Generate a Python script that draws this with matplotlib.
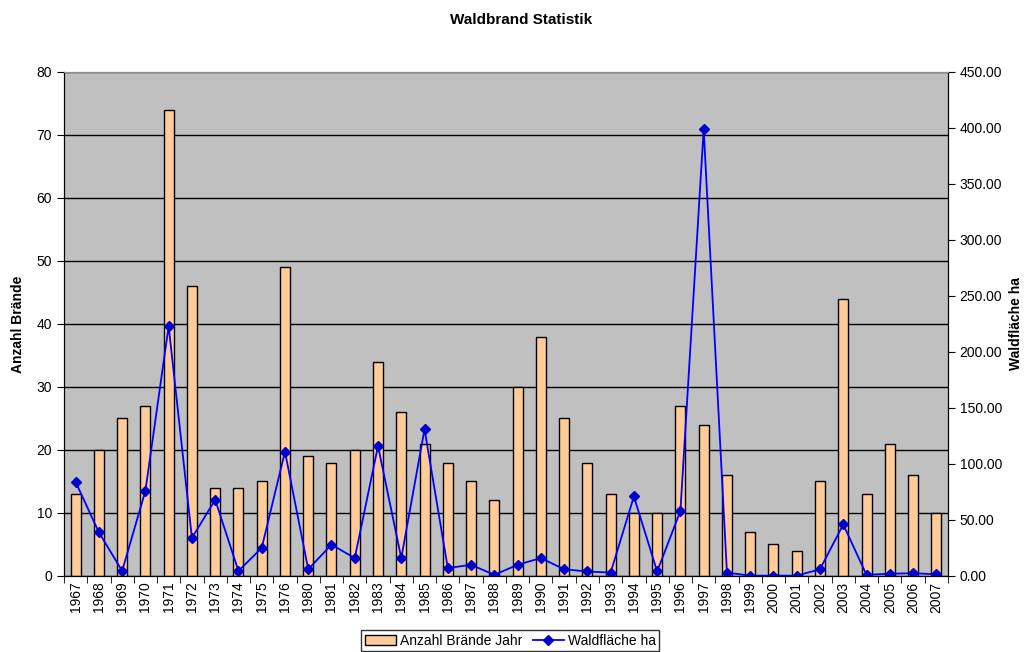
import numpy as np
import matplotlib
matplotlib.use('Agg')
import matplotlib.pyplot as plt
from matplotlib.ticker import FormatStrFormatter

plt.rcParams['font.family'] = ['Liberation Sans', 'DejaVu Sans']

years = ['1967', '1968', '1969', '1970', '1971', '1972', '1973', '1974', '1975', '1976',
         '1980', '1981', '1982', '1983', '1984', '1985', '1986', '1987', '1988', '1989',
         '1990', '1991', '1992', '1993', '1994', '1995', '1996', '1997', '1998', '1999',
         '2000', '2001', '2002', '2003', '2004', '2005', '2006', '2007']
braende = [13, 20, 25, 27, 74, 46, 14, 14, 15, 49,
           19, 18, 20, 34, 26, 21, 18, 15, 12, 30,
           38, 25, 18, 13, 10, 10, 27, 24, 16, 7,
           5, 4, 15, 44, 13, 21, 16, 10]
flaeche = [84, 39, 4.5, 76, 223, 34, 68, 4.5, 25, 111,
           6, 28, 16, 116, 16, 131, 7, 10, 1, 10,
           16, 6, 4, 3, 71, 4, 58, 399, 3, 0.3,
           0.3, 0.3, 6, 46, 1, 2, 2.5, 1.5]

x = np.arange(len(years))

fig = plt.figure(figsize=(10.27, 6.52), dpi=100)
ax = fig.add_axes([0.0623, 0.1166, 0.8607, 0.773])
ax.set_facecolor('#C0C0C0')
ax.set_axisbelow(True)
ax.yaxis.grid(True, color='black', linewidth=1)

bars = ax.bar(x, braende, width=0.43, color='#FFCC99', edgecolor='black', linewidth=1,
              label='Anzahl Brände Jahr', zorder=2)
ax.set_xlim(-0.5, len(years) - 0.5)
ax.set_ylim(0, 80)
ax.set_yticks(range(0, 81, 10))
ax.set_xticks(x)
ax.set_xticklabels(years, rotation=90, fontsize=10)
ax.tick_params(axis='x', length=0, pad=4)
ax.set_xticks(np.arange(-0.5, len(years), 1), minor=True)
ax.tick_params(axis='x', which='minor', length=5, direction='out')
ax.tick_params(axis='y', labelsize=10, length=5)
ax.set_ylabel('Anzahl Brände', fontsize=10, fontweight='bold', labelpad=8)

ax2 = ax.twinx()
line, = ax2.plot(x, flaeche, color='#0000FF', linewidth=1.3, marker='D', markersize=5.5,
                 markerfacecolor='#0000CC', markeredgecolor='#0000CC', label='Waldfläche ha')
ax2.set_ylim(0, 450)
ax2.set_yticks(range(0, 451, 50))
ax2.yaxis.set_major_formatter(FormatStrFormatter('%.2f'))
ax2.tick_params(axis='y', labelsize=10, length=5)
ax2.set_ylabel('Waldfläche ha', fontsize=10, fontweight='bold', labelpad=5)

for a in (ax, ax2):
    a.spines['top'].set_color('#909090')
    a.spines['left'].set_color('black')
    a.spines['right'].set_color('black')
    a.spines['bottom'].set_color('black')

fig.text(0.507, 0.97, 'Waldbrand Statistik', ha='center', va='center', fontsize=11, fontweight='bold')

leg = fig.legend([bars, line], ['Anzahl Brände Jahr', 'Waldfläche ha'], loc='center',
                 bbox_to_anchor=(0.497, 0.017), ncol=2, fontsize=10, frameon=True,
                 fancybox=False, edgecolor='black', handlelength=2.2, handletextpad=0.3,
                 columnspacing=0.8, borderpad=0.25)
leg.get_frame().set_linewidth(1)

fig.savefig('out.png', dpi=100)
